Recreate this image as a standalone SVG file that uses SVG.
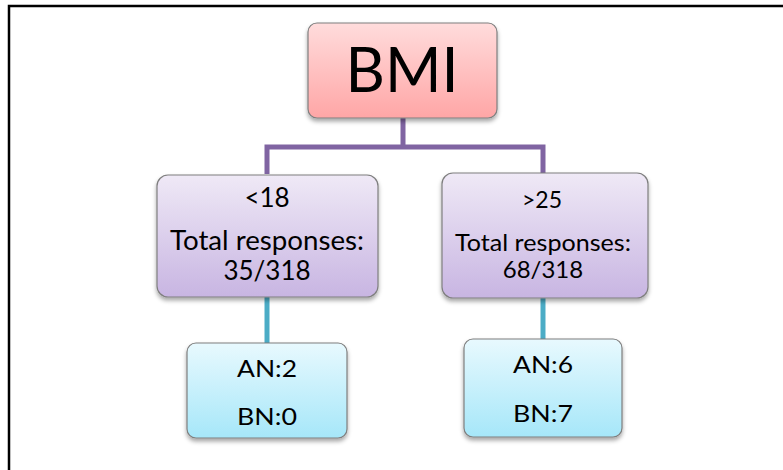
<svg xmlns="http://www.w3.org/2000/svg" width="783" height="470" viewBox="0 0 783 470">
<style>
.box{stroke:#7f7f7f;stroke-width:1.2}
.t{font-family:Lato,"Open Sans","Liberation Sans",sans-serif;fill:#000;text-anchor:middle}
.purple{stroke:#8064a2;stroke-width:5;fill:none}
.teal{stroke:#4bacc6;stroke-width:5;fill:none}
</style>
<defs>
<linearGradient id="gPink" x1="0" y1="0" x2="0" y2="1">
<stop offset="0" stop-color="#ffdcdc"/><stop offset="1" stop-color="#ffa6a6"/>
</linearGradient>
<linearGradient id="gPurple" x1="0" y1="0" x2="0" y2="1">
<stop offset="0" stop-color="#efe9f6"/><stop offset="1" stop-color="#c8b5e2"/>
</linearGradient>
<linearGradient id="gBlue" x1="0" y1="0" x2="0" y2="1">
<stop offset="0" stop-color="#e8f9fe"/><stop offset="1" stop-color="#a6e7f9"/>
</linearGradient>
<filter id="sh" x="-10%" y="-10%" width="120%" height="130%">
<feDropShadow dx="0" dy="3" stdDeviation="2" flood-color="#000" flood-opacity="0.35"/>
</filter>
</defs>
<rect width="783" height="470" fill="#fff"/>
<path d="M9 470 V6 H783" fill="none" stroke="#000" stroke-width="2.5"/>
<g id="connectors">
<path class="purple" d="M403 118 V147 M267 174 V147 H543 V174"/>
<path class="teal" d="M267 297 V343"/>
<path class="teal" d="M543 298 V339"/>
</g>
<g id="bmi">
<rect class="box" x="308" y="23" width="189" height="95" rx="9" fill="url(#gPink)" filter="url(#sh)"/>
<text class="t" x="402" y="92" font-size="62" textLength="113" lengthAdjust="spacingAndGlyphs">BMI</text>
</g>
<g id="lt18">
<rect class="box" x="157" y="175" width="221" height="122" rx="11" fill="url(#gPurple)" filter="url(#sh)"/>
<text class="t" x="267" y="207" font-size="26">&lt;18</text>
<text class="t" x="267" y="250" font-size="26" textLength="194" lengthAdjust="spacingAndGlyphs">Total responses:</text>
<text class="t" x="267" y="280" font-size="26">35/318</text>
</g>
<g id="gt25">
<rect class="box" x="442" y="173" width="206" height="125" rx="11" fill="url(#gPurple)" filter="url(#sh)"/>
<text class="t" x="542" y="208" font-size="23">&gt;25</text>
<text class="t" x="543" y="251" font-size="24" textLength="176" lengthAdjust="spacingAndGlyphs">Total responses:</text>
<text class="t" x="543" y="278" font-size="24">68/318</text>
</g>
<g id="lt18res">
<rect class="box" x="187" y="343" width="160" height="95" rx="9" fill="url(#gBlue)" filter="url(#sh)"/>
<text class="t" x="267" y="377" font-size="23" textLength="60" lengthAdjust="spacingAndGlyphs">AN:2</text>
<text class="t" x="267" y="425" font-size="23" textLength="60" lengthAdjust="spacingAndGlyphs">BN:0</text>
</g>
<g id="gt25res">
<rect class="box" x="464" y="339" width="158" height="98" rx="9" fill="url(#gBlue)" filter="url(#sh)"/>
<text class="t" x="543" y="373" font-size="23" textLength="60" lengthAdjust="spacingAndGlyphs">AN:6</text>
<text class="t" x="543" y="422" font-size="23" textLength="60" lengthAdjust="spacingAndGlyphs">BN:7</text>
</g>
</svg>
